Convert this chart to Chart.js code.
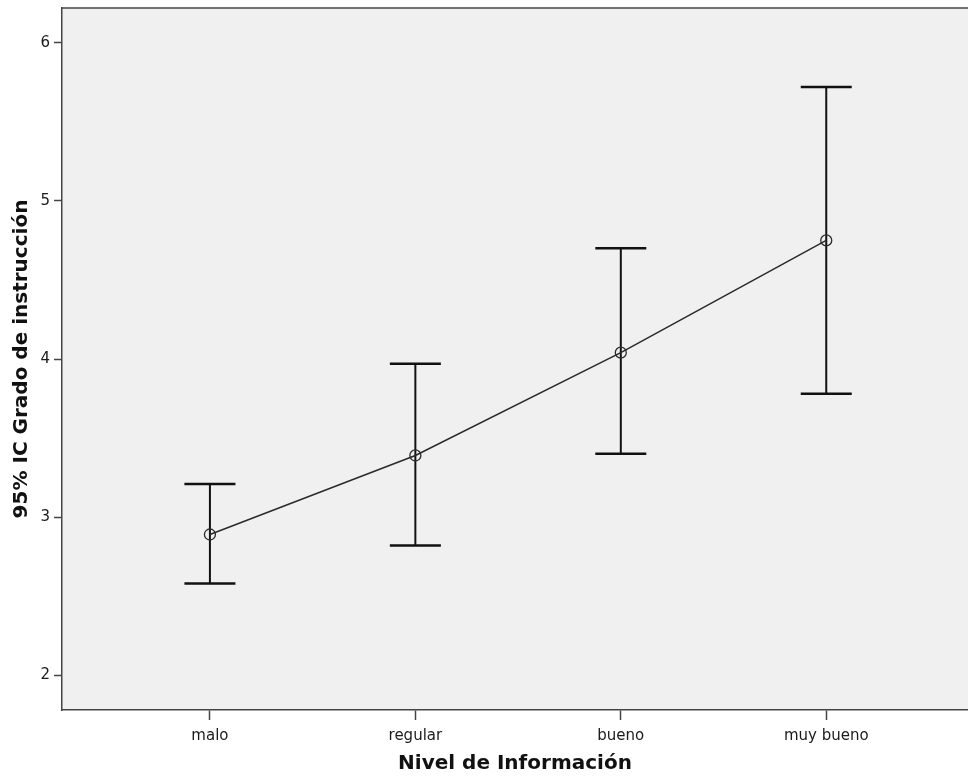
<!DOCTYPE html>
<html>
<head>
<meta charset="utf-8">
<title>95% IC Grado de instrucción</title>
<script src="https://cdn.jsdelivr.net/npm/chart.js@4.4.0/dist/chart.umd.min.js"></script>
<style>
	html, body {
		margin: 0;
		padding: 0;
		background: #ffffff;
	}
	#chart {
		display: block;
	}
</style>
</head>
<body>
<canvas id="chart" width="968" height="778"></canvas>
<script>
var categories = ['malo', 'regular', 'bueno', 'muy bueno'];
var means = [2.89, 3.39, 4.04, 4.75];
var ciLower = [2.58, 2.82, 3.40, 3.78];
var ciUpper = [3.21, 3.97, 4.70, 5.72];
var yTicks = [2, 3, 4, 5, 6];

var points = means.map(function(m, i) {
	return { x: i + 1, y: m };
});

// plot background and top border of the frame
var frame = {
	id: 'frame',
	beforeDraw: function(chart) {
		var a = chart.chartArea;
		var ctx = chart.ctx;
		ctx.save();
		ctx.fillStyle = '#f0f0f0';
		ctx.fillRect(a.left, a.top, a.right - a.left, a.bottom - a.top);
		ctx.strokeStyle = '#444444';
		ctx.lineWidth = 1.5;
		ctx.beginPath();
		ctx.moveTo(a.left, a.top);
		ctx.lineTo(a.right, a.top);
		ctx.stroke();
		ctx.restore();
	}
};

// confidence interval bars, placed with the chart's own scales
var errorBars = {
	id: 'errorBars',
	beforeDatasetsDraw: function(chart) {
		var ctx = chart.ctx;
		var xs = chart.scales.x;
		var ys = chart.scales.y;
		ctx.save();
		ctx.strokeStyle = '#111111';
		ctx.lineCap = 'butt';
		for (var i = 0; i < means.length; i++) {
			var px = xs.getPixelForValue(i + 1);
			var top = ys.getPixelForValue(ciUpper[i]);
			var bot = ys.getPixelForValue(ciLower[i]);
			var half = 25.5;
			ctx.lineWidth = 2;
			ctx.beginPath();
			ctx.moveTo(px, top);
			ctx.lineTo(px, bot);
			ctx.stroke();
			ctx.lineWidth = 2.5;
			ctx.beginPath();
			ctx.moveTo(px - half, top);
			ctx.lineTo(px + half, top);
			ctx.moveTo(px - half, bot);
			ctx.lineTo(px + half, bot);
			ctx.stroke();
		}
		ctx.restore();
	}
};

// eslint-disable-next-line no-undef
var chart = new Chart(document.getElementById('chart'), {
	type: 'line',
	data: {
		datasets: [{
			data: points,
			borderColor: '#2a2a2a',
			borderWidth: 1.5,
			pointRadius: 5.5,
			pointHoverRadius: 5.5,
			pointBorderWidth: 1.3,
			pointBorderColor: '#2a2a2a',
			pointBackgroundColor: 'rgba(0,0,0,0)',
			tension: 0
		}]
	},
	options: {
		responsive: false,
		animation: false,
		layout: {
			autoPadding: false,
			padding: { top: 8, right: 0, bottom: 0, left: 0 }
		},
		plugins: {
			legend: { display: false },
			tooltip: { enabled: false }
		},
		scales: {
			x: {
				type: 'linear',
				min: 0.28,
				max: 4.69,
				afterBuildTicks: function(scale) {
					scale.ticks = categories.map(function(c, i) {
						return { value: i + 1 };
					});
				},
				afterFit: function(scale) {
					scale.height = 68;
					scale.paddingLeft = 0;
					scale.paddingRight = 0;
				},
				ticks: {
					autoSkip: false,
					maxRotation: 0,
					padding: 7,
					color: '#1a1a1a',
					font: { family: 'DejaVu Sans', size: 15 },
					callback: function(v) {
						return categories[v - 1];
					}
				},
				grid: {
					drawOnChartArea: false,
					drawTicks: true,
					tickLength: 10,
					tickColor: '#444444',
					tickWidth: 1.5
				},
				border: { display: true, color: '#444444', width: 1.5 },
				title: {
					display: true,
					text: 'Nivel de Información',
					color: '#111111',
					font: { family: 'DejaVu Sans', size: 20, weight: 'bold' },
					padding: { top: 0, bottom: 2 }
				}
			},
			y: {
				min: 1.78,
				max: 6.22,
				afterBuildTicks: function(scale) {
					scale.ticks = yTicks.map(function(v) {
						return { value: v };
					});
				},
				afterFit: function(scale) {
					scale.width = 62;
					scale.paddingTop = 0;
					scale.paddingBottom = 0;
				},
				ticks: {
					padding: 4,
					color: '#1a1a1a',
					font: { family: 'DejaVu Sans', size: 15 }
				},
				grid: {
					drawOnChartArea: false,
					drawTicks: true,
					tickLength: 8,
					tickColor: '#444444',
					tickWidth: 1.5
				},
				border: { display: true, color: '#444444', width: 1.5 },
				title: {
					display: true,
					text: '95% IC Grado de instrucción',
					color: '#111111',
					font: { family: 'DejaVu Sans', size: 20, weight: 'bold' },
					padding: { top: 10, bottom: 0 }
				}
			}
		}
	},
	plugins: [frame, errorBars]
});
</script>
</body>
</html>
